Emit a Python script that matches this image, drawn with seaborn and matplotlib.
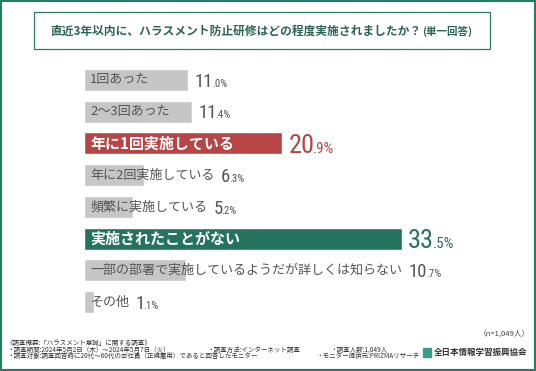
import matplotlib
matplotlib.use("Agg")
import matplotlib.pyplot as plt
from matplotlib.patches import Rectangle
import seaborn as sns

# ---- data ----
labels = ["1回あった", "2〜3回あった", "年に1回実施している", "年に2回実施している",
          "頻繁に実施している", "実施されたことがない",
          "一部の部署で実施しているようだが詳しくは知らない", "その他"]
values = [11.0, 11.4, 20.9, 6.3, 5.2, 33.5, 10.7, 1.1]
highlight = [None, None, "red", None, None, "green", None, None]

title = "直近3年以内に、ハラスメント防止研修はどの程度実施されましたか？"
title_suffix = "(単一回答)"
note_n = "（n=1,049人）"
# (x start px, text) per footer row
footer_lines = [
    [(7, "《調査概要:「ハラスメント意識」に関する調査》")],
    [(7, "・調査期間:2024年5月2日（木）〜2024年5月7日（火）"),
     (207, "・調査方法:インターネット調査"),
     (330, "・調査人数:1,049人")],
    [(7, "・調査対象:調査回答時に20代〜60代の会社員（正規雇用）であると回答したモニター"),
     (316, "・モニター提供元:PRIZMAリサーチ")],
]
org_name = "全日本情報学習振興協会"

GRAY = "#c6c6c6"
RED = "#b84545"
GREEN = "#23735e"
TXT = "#555555"
FRAME = "#2a7b66"
col_map = {None: GRAY, "red": RED, "green": GREEN}
bar_colors = [col_map[h] for h in highlight]
NUM_FONT = ["Roboto Condensed", "Liberation Sans Narrow", "Roboto", "DejaVu Sans"]

sns.set_style("white")
plt.rcParams["font.family"] = ["Noto Sans CJK JP", "DejaVu Sans"]

W, H = 536, 371
fig = plt.figure(figsize=(W / 100, H / 100), dpi=100)
renderer = fig.canvas.get_renderer()


def fx(px):
    return px / W


def fy(py):
    return 1 - py / H


def fit_width(t, target_px):
    # scale font size so the text spans target_px
    w = t.get_window_extent(renderer).width
    t.set_fontsize(t.get_fontsize() * target_px / w)


# bar area: x 84..520 px, y 64..318 px
ax = fig.add_axes([fx(84), fy(318), fx(436), (318 - 64) / H])
sns.barplot(x=values, y=labels, hue=labels, palette=bar_colors, orient="h",
            width=0.69, ax=ax, legend=False, saturation=1)
ax.set_xlim(0, 436 / 9.49)
ax.set_ylim(7.5, -0.5)
ax.axis("off")

label_artists = []
for i, (lab, h) in enumerate(zip(labels, highlight)):
    if h is None:
        t = ax.annotate(lab, xy=(0, i), xytext=(4.5, 0), textcoords="offset points",
                        va="center", ha="left", fontsize=9.4, color=TXT)
    else:
        t = ax.annotate(lab, xy=(0, i), xytext=(4.5, 0), textcoords="offset points",
                        va="center", ha="left", fontsize=10.8, color="white",
                        fontweight="bold")
    label_artists.append(t)

fig.canvas.draw()

for i, (v, h) in enumerate(zip(values, highlight)):
    bar_end, yc = ax.transData.transform((v, i))
    lab_end = label_artists[i].get_window_extent(renderer).x1
    x0 = max(bar_end, lab_end) + 6
    whole, dec = f"{v:.1f}".split(".")
    if h is None:
        c, s1, s2 = TXT, 13.5, 7.8
    else:
        c, s1, s2 = col_map[h], 19, 11
    base = yc - 0.72 * s1 * 100 / 72 / 2
    t1 = fig.text(x0 / W, base / H, whole, fontsize=s1, color=c, va="baseline",
                  ha="left", family=NUM_FONT)
    x1 = t1.get_window_extent(renderer).x1
    fig.text((x1 - 1) / W, base / H, "." + dec + "%", fontsize=s2, color=c,
             va="baseline", ha="left", family=NUM_FONT)

# frame and title box
fig.patches.append(Rectangle((0, 0), 1, 1, transform=fig.transFigure, fill=False,
                             lw=3, edgecolor=FRAME))
fig.patches.append(Rectangle((fx(34), fy(49)), fx(456), 37 / H,
                             transform=fig.transFigure, fill=False, lw=0.9,
                             edgecolor=FRAME))
tt = fig.text(fx(50), fy(31), title, fontsize=8.6, color="#2b6455",
              fontweight="bold", va="center", ha="left")
fit_width(tt, 368)
tx1 = tt.get_window_extent(renderer).x1
ts = fig.text((tx1 + 1) / W, fy(31.5), title_suffix, fontsize=7.4, color="#2b6455",
              fontweight="bold", va="center", ha="left")
fit_width(ts, 50)

# footer
fig.text(fx(530), fy(334), note_n, fontsize=5.5, color="#444444", va="center", ha="right")
for row, ypx in zip(footer_lines, [343, 349.5, 356]):
    for xa, txt in row:
        fig.text(fx(xa), fy(ypx), txt, fontsize=4.7, color="#333333",
                 va="center", ha="left")

fig.patches.append(Rectangle((fx(423), fy(357)), fx(8), 9 / H,
                             transform=fig.transFigure, color="#3a9c8c"))
ot = fig.text(fx(434), fy(352.5), org_name, fontsize=6.4, color="#333333",
              fontweight="bold", va="center", ha="left")
fit_width(ot, 94)

fig.savefig("out.png", dpi=100)
